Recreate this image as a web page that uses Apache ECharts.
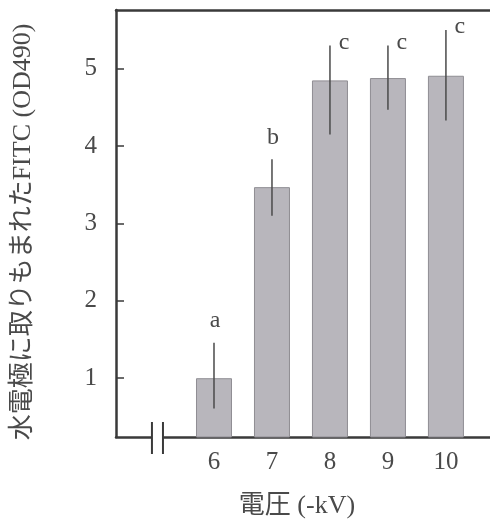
<!DOCTYPE html>
<html><head><meta charset="utf-8">
<script src="https://cdn.jsdelivr.net/npm/echarts@6/dist/echarts.min.js"></script>
<style>html,body{margin:0;padding:0;background:#fff}#c{width:490px;height:522px}</style>
</head><body><div id="c"></div>
<script>
// ---- data ----
const categories = [6, 7, 8, 9, 10];
const means = [1.00, 3.47, 4.85, 4.88, 4.91];
const errLow = [0.61, 3.10, 4.15, 4.47, 4.33];
const errHigh = [1.46, 3.83, 5.30, 5.30, 5.50];
const letters = ['a', 'b', 'c', 'c', 'c'];
const yTicks = [1, 2, 3, 4, 5];
const xTicks = [6, 7, 8, 9, 10];
const yTitle = '水電極に取りもまれたFITC (OD490)';
const xTitle = '電圧 (-kV)';
const letterPlacement = ['top', 'top', 'right', 'right', 'right'];

// ---- style ----
const FONT = "'Liberation Serif','Noto Sans CJK JP',serif";
const AX = '#3a3a3a';
const TXT = '#4a4a4a';
const X_MIN = 4.31, X_MAX = 10.76, Y_MIN = 0.24, Y_MAX = 5.76;
const BREAK = [4.93, 5.12];

const chart = echarts.init(document.getElementById('c'), null, {renderer: 'canvas'});

const barData = categories.map((c, i) => [c, means[i]]);
const errData = categories.map((c, i) => [c, errLow[i], errHigh[i]]);

chart.setOption({
  animation: false,
  backgroundColor: '#fff',
  grid: {left: 116, top: 10, right: 0, bottom: 85},
  xAxis: [{
    type: 'value', min: X_MIN, max: X_MAX, position: 'bottom',
    axisLine: {show: true, lineStyle: {color: AX, width: 2.5}},
    axisTick: {show: false},
    splitLine: {show: false},
    axisLabel: {customValues: xTicks, margin: 13, fontFamily: FONT, fontSize: 25, color: TXT}
  }, {
    type: 'value', min: X_MIN, max: X_MAX, position: 'top',
    axisLine: {show: true, lineStyle: {color: AX, width: 2.5}},
    axisTick: {show: false}, axisLabel: {show: false}, splitLine: {show: false}
  }],
  yAxis: {
    type: 'value', min: Y_MIN, max: Y_MAX,
    axisLine: {show: true, lineStyle: {color: AX, width: 2.5}},
    axisTick: {show: true, inside: true, length: 8, customValues: yTicks, lineStyle: {color: AX, width: 1.5}},
    splitLine: {show: false},
    axisLabel: {customValues: yTicks, margin: 19, fontFamily: FONT, fontSize: 25, color: TXT}
  },
  series: [{
    type: 'bar', data: barData, barWidth: 36,
    itemStyle: {color: '#b8b6bc', borderColor: '#8f8d93', borderWidth: 1}
  }, {
    type: 'custom', data: errData, clip: false, z: 5,
    renderItem(params, api) {
      const x = api.value(0), lo = api.value(1), hi = api.value(2);
      const pLo = api.coord([x, lo]), pHi = api.coord([x, hi]);
      const i = params.dataIndex;
      const top = letterPlacement[i] === 'top';
      const tx = top ? pHi[0] + 1 : pHi[0] + 14;
      const ty = top ? pHi[1] - 22 : pHi[1] - 3;
      return {type: 'group', children: [
        {type: 'line', shape: {x1: pLo[0], y1: pLo[1], x2: pHi[0], y2: pHi[1]},
         style: {stroke: '#4a4a4a', lineWidth: 1.5}},
        {type: 'text', x: tx, y: ty,
         style: {text: letters[i], fontFamily: FONT, fontSize: 24, fill: TXT, align: 'center', verticalAlign: 'middle'}}
      ]};
    }
  }]
});

const b0 = chart.convertToPixel({xAxisIndex: 0, yAxisIndex: 0}, [BREAK[0], Y_MIN]);
const b1 = chart.convertToPixel({xAxisIndex: 0, yAxisIndex: 0}, [BREAK[1], Y_MIN]);
chart.setOption({
  graphic: [
    {type: 'rect', z: 100, shape: {x: b0[0], y: b0[1] - 4, width: b1[0] - b0[0], height: 8}, style: {fill: '#fff'}},
    {type: 'line', z: 101, shape: {x1: b0[0], y1: b0[1] - 15, x2: b0[0], y2: b0[1] + 17}, style: {stroke: AX, lineWidth: 2}},
    {type: 'line', z: 101, shape: {x1: b1[0], y1: b1[1] - 15, x2: b1[0], y2: b1[1] + 17}, style: {stroke: AX, lineWidth: 2}},
    {type: 'text', z: 101, x: 23, y: 232, rotation: Math.PI / 2,
     style: {text: yTitle, fontFamily: FONT, fontSize: 26, fill: TXT, align: 'center', verticalAlign: 'middle'}},
    {type: 'text', z: 101, x: 297, y: 506,
     style: {text: xTitle, fontFamily: FONT, fontSize: 26, fill: TXT, align: 'center', verticalAlign: 'middle'}}
  ]
});
</script></body></html>
